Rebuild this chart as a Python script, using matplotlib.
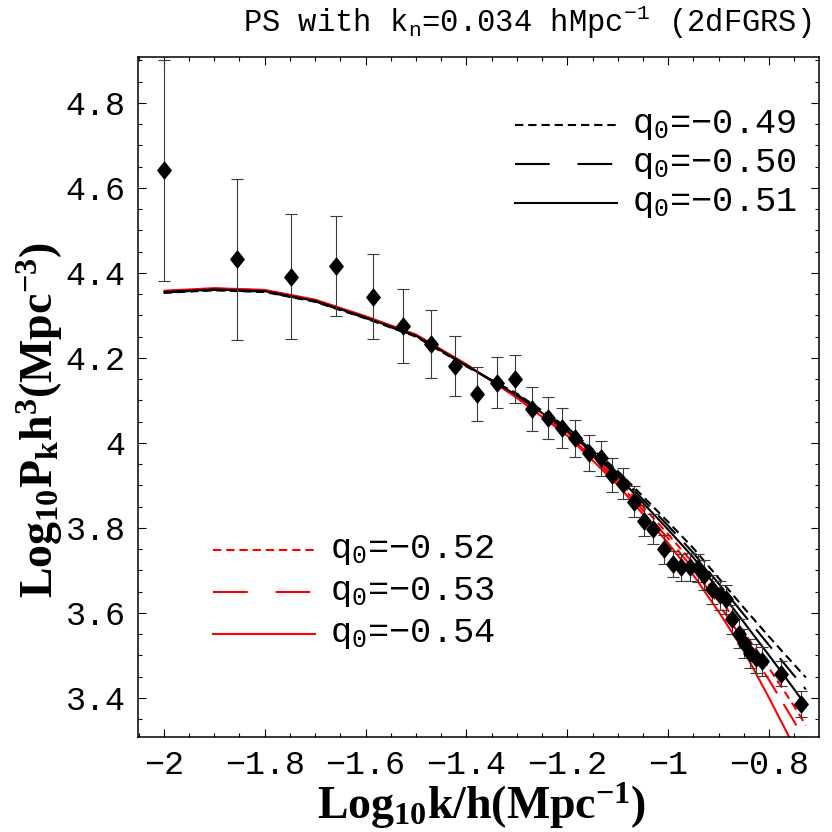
import matplotlib
matplotlib.use("Agg")
import matplotlib.pyplot as plt
from matplotlib.path import Path
from matplotlib.ticker import MultipleLocator, FuncFormatter

# ---------------- data ----------------
k_data = [-2.000, -1.855, -1.747, -1.659, -1.586, -1.526, -1.471, -1.423, -1.379, -1.339,
          -1.303, -1.269, -1.239, -1.211, -1.184, -1.157, -1.134, -1.112, -1.089, -1.067,
          -1.048, -1.030, -1.008, -0.990, -0.974, -0.956, -0.941, -0.928, -0.913, -0.898,
          -0.885, -0.874, -0.860, -0.849, -0.837, -0.826, -0.814, -0.777, -0.737]
p_data = [4.641, 4.432, 4.391, 4.416, 4.344, 4.274, 4.232, 4.181, 4.115, 4.142,
          4.150, 4.080, 4.058, 4.035, 4.011, 3.976, 3.964, 3.925, 3.904, 3.862,
          3.817, 3.797, 3.750, 3.715, 3.707, 3.709, 3.705, 3.689, 3.656, 3.642,
          3.632, 3.585, 3.551, 3.529, 3.505, 3.493, 3.486, 3.457, 3.385]
p_err = [0.260, 0.190, 0.147, 0.118, 0.100, 0.087, 0.080, 0.070, 0.064, 0.060,
         0.056, 0.051, 0.049, 0.046, 0.044, 0.042, 0.041, 0.040, 0.037, 0.037,
         0.036, 0.035, 0.034, 0.030, 0.032, 0.033, 0.033, 0.035, 0.034, 0.034,
         0.034, 0.034, 0.034, 0.034, 0.034, 0.034, 0.034, 0.030, 0.031]

k_model = [-2.0, -1.9, -1.8, -1.7, -1.6, -1.5, -1.4, -1.3, -1.2, -1.1, -1.0,
           -0.95, -0.9, -0.85, -0.8, -0.75, -0.727]
p_q049 = [4.353, 4.359, 4.355, 4.332, 4.293, 4.250, 4.180, 4.116, 4.036, 3.934, 3.814,
          3.752, 3.682, 3.612, 3.544, 3.478, 3.448]
p_q050 = [4.354, 4.360, 4.356, 4.333, 4.294, 4.251, 4.181, 4.114, 4.033, 3.928, 3.805,
          3.741, 3.669, 3.596, 3.524, 3.452, 3.420]
p_q051 = [4.355, 4.361, 4.357, 4.334, 4.295, 4.252, 4.182, 4.112, 4.029, 3.922, 3.796,
          3.730, 3.655, 3.578, 3.500, 3.420, 3.382]
p_q052 = [4.356, 4.362, 4.358, 4.335, 4.296, 4.253, 4.183, 4.110, 4.025, 3.915, 3.785,
          3.716, 3.637, 3.555, 3.470, 3.380, 3.335]
p_q053 = [4.357, 4.363, 4.359, 4.336, 4.297, 4.254, 4.184, 4.108, 4.021, 3.908, 3.775,
          3.703, 3.621, 3.534, 3.442, 3.344, 3.294]
p_q054 = [4.358, 4.364, 4.360, 4.337, 4.298, 4.255, 4.185, 4.106, 4.017, 3.901, 3.764,
          3.689, 3.603, 3.511, 3.400, 3.285, 3.240]

labels_top = ["q$_0$=\u22120.49", "q$_0$=\u22120.50", "q$_0$=\u22120.51"]
labels_bot = ["q$_0$=\u22120.52", "q$_0$=\u22120.53", "q$_0$=\u22120.54"]

x_ticks = [-2.0, -1.8, -1.6, -1.4, -1.2, -1.0, -0.8]
y_ticks = [3.4, 3.6, 3.8, 4.0, 4.2, 4.4, 4.6, 4.8]

# ---------------- style ----------------
plt.rcParams['lines.scale_dashes'] = False
plt.rcParams['mathtext.fontset'] = 'custom'
plt.rcParams['mathtext.rm'] = 'Liberation Mono'
plt.rcParams['mathtext.it'] = 'Liberation Mono'
plt.rcParams['mathtext.bf'] = 'Liberation Serif:bold'
plt.rcParams['mathtext.default'] = 'rm'
plt.rcParams['font.family'] = ['Liberation Mono', 'DejaVu Sans']

W = 832.0
fig = plt.figure(figsize=(8.32, 8.32), dpi=100)
ax = fig.add_axes([138 / W, 1 - 737 / W, (819 - 138) / W, (737 - 57) / W])

short_dash = (6, 3.5)
long_dash = (18, 9)
lw = 1.5
curves = [
    (p_q049, 'black', short_dash),
    (p_q050, 'black', long_dash),
    (p_q051, 'black', None),
    (p_q052, 'red', short_dash),
    (p_q053, 'red', long_dash),
    (p_q054, 'red', None),
]
for ys, col, dash in reversed(curves):
    line, = ax.plot(k_model, ys, color=col, lw=lw, solid_capstyle='butt')
    if dash is not None:
        line.set_dashes(dash)

diamond = Path([(0, 1), (0.8, 0), (0, -1), (-0.8, 0), (0, 1)],
               [Path.MOVETO, Path.LINETO, Path.LINETO, Path.LINETO, Path.CLOSEPOLY])
ax.errorbar(k_data, p_data, yerr=p_err, fmt='none', ecolor='#3a3a3a',
            elinewidth=0.8, capsize=4.3, capthick=0.8, zorder=4)
ax.plot(k_data, p_data, linestyle='none', marker=diamond, markersize=12,
        color='black', zorder=5)

ax.set_xlim(-2.051, -0.701)
ax.set_ylim(3.308, 4.908)
ax.set_xticks(x_ticks)
ax.set_yticks(y_ticks)
ax.xaxis.set_minor_locator(MultipleLocator(0.05))
ax.yaxis.set_minor_locator(MultipleLocator(0.05))


def fmt(v, pos):
    s = ('%.1f' % v).rstrip('0').rstrip('.')
    return s.replace('-', '\u2212')


ax.xaxis.set_major_formatter(FuncFormatter(fmt))
ax.yaxis.set_major_formatter(FuncFormatter(fmt))
ax.tick_params(which='both', direction='in', top=True, right=True, width=0.8,
               labelsize=24)
ax.tick_params(which='major', length=6, pad=9)
ax.tick_params(which='minor', length=3)
for sp in ax.spines.values():
    sp.set_linewidth(1.1)


def px2ax(xp, yp):
    return ((xp - 138) / (819 - 138), (737 - yp) / (737 - 57))


def legend_block(entries, labels, rows, xl0, xl1, xt):
    for (ys, col, dash), lab, yr in zip(entries, labels, rows):
        x0, y0 = px2ax(xl0, yr)
        x1, _ = px2ax(xl1, yr)
        ln, = ax.plot([x0, x1], [y0, y0], transform=ax.transAxes, color=col, lw=lw)
        if dash is not None:
            ln.set_dashes(dash if dash == short_dash else (25, 20))
        xtt, _ = px2ax(xt, yr)
        ax.text(xtt, y0, lab, transform=ax.transAxes, fontsize=25.5,
                va='center', ha='left')


legend_block(curves[:3], labels_top, [125, 164, 203], 515, 617, 632)
legend_block(curves[3:], labels_bot, [550, 592, 634], 213, 315, 330)

fig.text(527 / W, 1 - 22 / W, "PS with k$_n$=0.034 hMpc$^{-1}$ (2dFGRS)",
         ha='center', va='center', fontsize=22)
fig.text(482 / W, 1 - 806 / W, r"$\mathbf{Log_{10}k/h(Mpc^{-1})}$",
         ha='center', va='center', fontsize=33)
fig.text(40 / W, 1 - 420 / W, r"$\mathbf{Log_{10}P_kh^3(Mpc^{-3})}$",
         ha='center', va='center', fontsize=33, rotation=90)

fig.savefig('out.png', dpi=100)
